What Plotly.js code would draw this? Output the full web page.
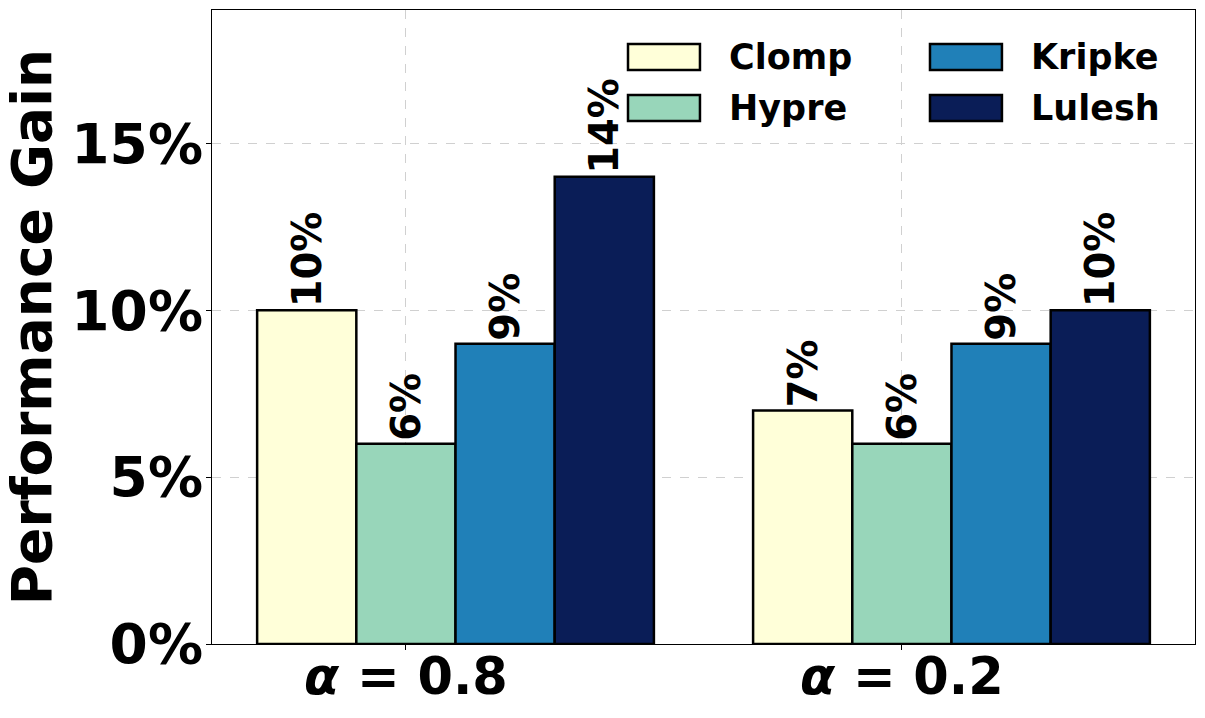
<!DOCTYPE html>
<html>
<head>
<meta charset="utf-8">
<script src="https://cdn.plot.ly/plotly-3.0.1.min.js"></script>
<style>html,body{margin:0;padding:0;background:#fff;}#chart{width:1205px;height:718px;}</style>
</head>
<body>
<div id="chart"></div>
<script>
// ---- data ----
const groups = ["<i>α</i> = 0.8", "<i>α</i> = 0.2"];
const seriesNames = ["Clomp", "Hypre", "Kripke", "Lulesh"];
const clomp = [10, 7];
const hypre = [6, 6];
const kripke = [9, 9];
const lulesh = [14, 10];
const colors = ["#ffffd9", "#98d6ba", "#2080b8", "#0a1d57"];
const yTicks = [0, 5, 10, 15];

const values = [clomp, hypre, kripke, lulesh];
const FONT = "DejaVu Sans, Arial, sans-serif";
const barW = 0.2;
const groupX = groups.map((g, i) => i);

const traces = seriesNames.map((name, k) => ({
  type: "bar",
  name: name,
  x: groupX,
  y: values[k],
  width: barW,
  offset: -0.3 + k * barW,
  marker: {color: colors[k], line: {color: "#000", width: 2.5}},
  text: values[k].map(v => "<b>" + v + "%</b>"),
  textposition: "outside",
  textangle: -90,
  textfont: {family: FONT, size: 40, color: "#000"},
  cliponaxis: false,
  showlegend: false,
  hoverinfo: "skip"
}));

// custom legend (large swatches like the reference)
const legendCols = [[0, 1], [2, 3]];
const colX = [0.4232, 0.7304];
const swW = 0.0732;
const rowY = [0.9259, 0.8454];
const swH = 0.041;
const shapes = [];
const annotations = [];
legendCols.forEach((col, c) => {
  col.forEach((k, r) => {
    shapes.push({type: "rect", xref: "paper", yref: "paper",
      x0: colX[c], x1: colX[c] + swW, y0: rowY[r] - swH / 2, y1: rowY[r] + swH / 2,
      fillcolor: colors[k], line: {color: "#000", width: 2.5}});
    annotations.push({xref: "paper", yref: "paper", x: colX[c] + swW + 0.028, y: rowY[r],
      xanchor: "left", yanchor: "middle", showarrow: false,
      text: "<b>" + seriesNames[k] + "</b>", font: {family: FONT, size: 35, color: "#000"}});
  });
});

const layout = {
  width: 1205, height: 718,
  margin: {l: 212, r: 10, t: 10, b: 74},
  paper_bgcolor: "#fff", plot_bgcolor: "#fff",
  barmode: "overlay",
  font: {family: FONT, color: "#000"},
  xaxis: {
    range: [-0.391, 1.591],
    tickvals: groupX, ticktext: groups.map(g => "<b>" + g + "</b>"),
    tickfont: {family: FONT, size: 51, color: "#000"},
    ticks: "outside", ticklen: 5, tickcolor: "#000",
    ticklabelstandoff: -17,
    showline: true, linecolor: "#000", linewidth: 1, mirror: true,
    showgrid: true, gridcolor: "#d0d0d0", griddash: "dash", gridwidth: 1,
    zeroline: false
  },
  yaxis: {
    range: [0, 19],
    tickvals: yTicks, ticktext: yTicks.map(v => "<b>" + v + "%</b>"),
    tickfont: {family: FONT, size: 55, color: "#000"},
    ticks: "outside", ticklen: 5, tickcolor: "#000",
    ticklabelstandoff: -8,
    showline: true, linecolor: "#000", linewidth: 1, mirror: true,
    showgrid: true, gridcolor: "#d0d0d0", griddash: "dash", gridwidth: 1,
    zeroline: false,
    title: {text: "<b>Performance Gain</b>", font: {family: FONT, size: 55, color: "#000"}, standoff: 12}
  },
  shapes: shapes,
  annotations: annotations
};

Plotly.newPlot("chart", traces, layout, {staticPlot: true, displayModeBar: false});
</script>
</body>
</html>
